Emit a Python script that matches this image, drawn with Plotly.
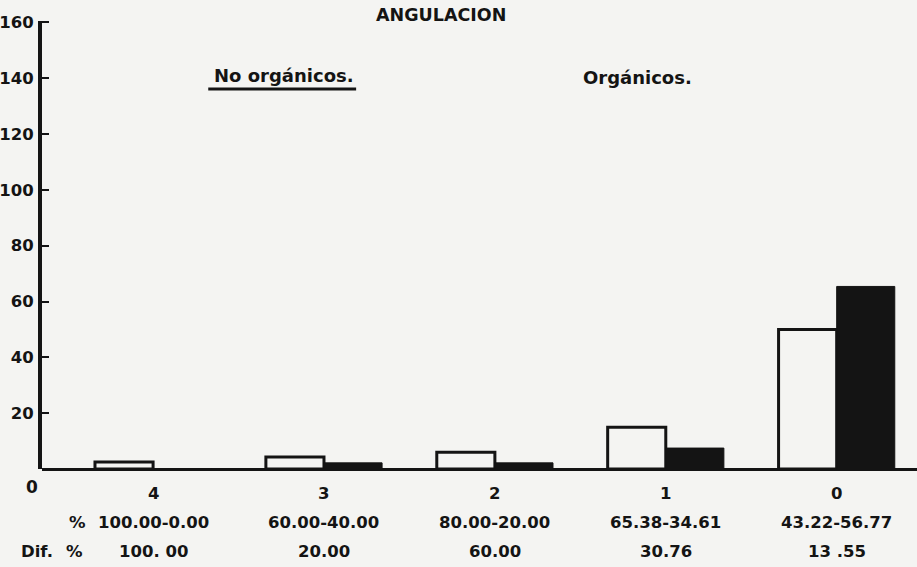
import plotly.graph_objects as go

categories = ["4", "3", "2", "1", "0"]
no_organicos = [2.5, 4.3, 6.0, 15.0, 50.0]
organicos = [0.0, 2.2, 2.2, 7.5, 65.4]
pct_labels = ["100.00-0.00", "60.00-40.00", "80.00-20.00", "65.38-34.61", "43.22-56.77"]
dif_labels = ["100. 00", "20.00", "60.00", "30.76", "13 .55"]
y_ticks = [20, 40, 60, 80, 100, 120, 140, 160]

FONT = "DejaVu Sans"
INK = "#141414"
BG = "#f4f4f2"
FS = 16.5

xpos = list(range(len(categories)))

fig = go.Figure()
fig.add_trace(go.Bar(
    x=xpos, y=no_organicos, name="No orgánicos.",
    width=0.34, offset=-0.34,
    marker=dict(color=BG, line=dict(color=INK, width=3)),
))
fig.add_trace(go.Bar(
    x=xpos, y=organicos, name="Orgánicos.",
    width=0.34, offset=0,
    marker=dict(color=INK, line=dict(color=INK, width=1)),
))

def txt(x, y, s, xref="x", size=FS, xanchor="center"):
    return dict(x=x, y=y, xref=xref, yref="paper", text=f"<b>{s}</b>", showarrow=False,
                xanchor=xanchor, yanchor="middle",
                font=dict(family=FONT, size=size, color=INK))

ann = []
for i, c in enumerate(categories):
    ann.append(txt(i, -0.054, c))
    ann.append(txt(i, -0.12, pct_labels[i]))
    ann.append(txt(i, -0.185, dif_labels[i]))

ann += [
    txt(0.041, -0.12, "%", xref="paper"),
    txt(-0.026, -0.185, "Dif.", xref="paper", xanchor="left"),
    txt(0.037, -0.185, "%", xref="paper"),
    txt(-0.012, -0.04, "0", xref="paper", size=17),
    txt(0.456, 1.013, "ANGULACION", xref="paper", size=17.5),
    txt(0.276, 0.879, "No orgánicos.", xref="paper", size=18),
    txt(0.681, 0.875, "Orgánicos.", xref="paper", size=18),
]

fig.update_layout(
    width=917, height=567,
    margin=dict(l=42, r=0, t=21, b=98),
    paper_bgcolor=BG, plot_bgcolor=BG,
    showlegend=False,
    annotations=ann,
    shapes=[dict(type="line", xref="paper", yref="paper", x0=0.19, x1=0.359, y0=0.848, y1=0.848,
                 line=dict(color=INK, width=3))],
    xaxis=dict(range=[-0.65, 4.47], showticklabels=False, ticks="", showgrid=False,
               zeroline=False, showline=False, fixedrange=True),
    yaxis=dict(range=[0, 160.5], tickvals=y_ticks, ticktext=[f"<b>{v}</b>" for v in y_ticks],
               ticks="inside", ticklen=7, tickwidth=2, tickcolor=INK,
               tickfont=dict(family=FONT, size=FS, color=INK),
               showgrid=False, zeroline=True, zerolinecolor=INK, zerolinewidth=3,
               showline=True, linecolor=INK, linewidth=4, ticklabelstandoff=1),
)

fig.write_html("out.html", config={"displayModeBar": False},
               post_script="document.body.style.margin='0';document.body.style.overflow='hidden';")
